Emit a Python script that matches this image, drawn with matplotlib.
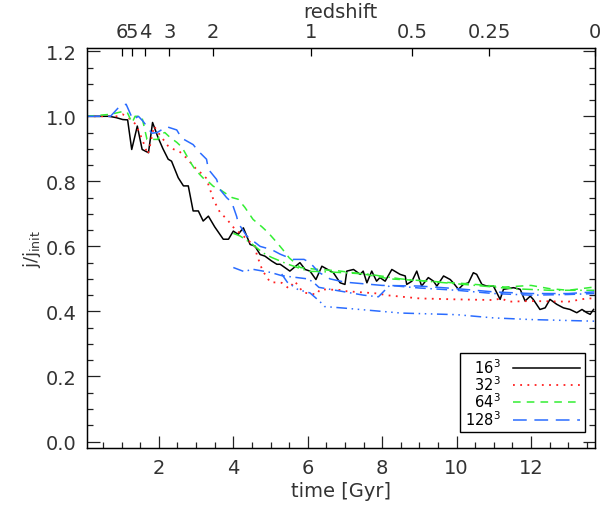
import numpy as np
import matplotlib
matplotlib.use("Agg")
import matplotlib.pyplot as plt
from matplotlib.ticker import MultipleLocator

# 16^3 run (black solid)
t_16 = [0.06, 0.66, 0.85, 1.03, 1.16, 1.27, 1.42, 1.55, 1.72, 1.83, 1.98, 2.11, 2.25, 2.34,
        2.52, 2.66, 2.79, 2.92, 3.06, 3.19, 3.33, 3.50, 3.73, 3.87, 4.00, 4.13, 4.27, 4.36,
        4.45, 4.58, 4.72, 4.85, 5.03, 5.17, 5.26, 5.52, 5.79, 5.93, 6.06, 6.22, 6.38, 6.69,
        6.87, 7.00, 7.05, 7.23, 7.41, 7.49, 7.59, 7.72, 7.85, 7.94, 8.08, 8.26, 8.48, 8.62,
        8.66, 8.80, 8.93, 9.06, 9.24, 9.38, 9.47, 9.65, 9.83, 9.91, 10.05, 10.18, 10.32,
        10.45, 10.54, 10.68, 10.81, 10.99, 11.17, 11.26, 11.53, 11.71, 11.84, 11.98, 12.06,
        12.24, 12.38, 12.51, 12.69, 12.87, 13.05, 13.23, 13.37, 13.50, 13.59, 13.68]
j_16 = [1.0, 1.0, 0.996, 0.99, 0.989, 0.898, 0.970, 0.898, 0.888, 0.981, 0.934, 0.90, 0.868,
        0.862, 0.811, 0.786, 0.786, 0.709, 0.709, 0.678, 0.693, 0.660, 0.622, 0.622, 0.647,
        0.637, 0.657, 0.632, 0.606, 0.601, 0.575, 0.570, 0.555, 0.545, 0.545, 0.524, 0.550,
        0.529, 0.524, 0.498, 0.539, 0.519, 0.488, 0.483, 0.524, 0.529, 0.514, 0.524, 0.488,
        0.524, 0.493, 0.504, 0.493, 0.529, 0.514, 0.509, 0.483, 0.493, 0.524, 0.478, 0.504,
        0.493, 0.478, 0.509, 0.498, 0.488, 0.468, 0.483, 0.488, 0.519, 0.514, 0.483, 0.478,
        0.478, 0.437, 0.468, 0.473, 0.468, 0.432, 0.447, 0.437, 0.406, 0.411, 0.437, 0.422,
        0.411, 0.406, 0.396, 0.406, 0.396, 0.391, 0.406]

# 32^3 run (red dotted)
t_32 = [0.06, 0.9, 1.03, 1.25, 1.38, 1.55, 1.70, 1.74, 1.87, 1.98, 2.27, 2.57, 2.73, 3.01,
        3.09, 3.27, 3.42, 3.46, 3.64, 3.83, 4.05, 4.27, 4.58, 4.63, 4.77, 4.80, 4.99, 5.30,
        5.50, 5.65, 5.88, 6.24, 6.33, 6.87, 7.05, 7.90, 8.10, 9.00, 10.0, 11.0, 11.2, 11.4,
        12.0, 13.0, 13.5, 13.7]
j_32 = [1.0, 1.0, 1.006, 0.99, 0.975, 0.93, 0.883, 0.898, 0.97, 0.95, 0.905, 0.89, 0.873,
        0.837, 0.83, 0.81, 0.76, 0.745, 0.705, 0.683, 0.652, 0.632, 0.60, 0.575, 0.53, 0.523,
        0.49, 0.488, 0.47, 0.493, 0.458, 0.452, 0.468, 0.466, 0.462, 0.455, 0.45, 0.44,
        0.437, 0.435, 0.44, 0.43, 0.432, 0.43, 0.44, 0.44]

# 64^3 run (green dashed)
t_64 = [0.06, 0.69, 1.04, 1.15, 1.28, 1.36, 1.54, 1.68, 1.97, 2.03, 2.16, 2.30, 2.48, 2.62,
        2.84, 2.97, 3.19, 3.32, 3.46, 3.64, 3.83, 3.97, 4.13, 4.31, 4.53, 4.77, 4.93, 5.17,
        5.33, 5.50, 5.80, 6.20, 6.80, 7.50, 8.20, 9.00, 10.3, 11.3, 12.0, 12.5, 13.0, 13.7]
j_64 = [1.0, 1.006, 1.015, 1.012, 0.98, 1.0, 1.0, 0.929, 0.929, 0.945, 0.95, 0.935, 0.92,
        0.905, 0.86, 0.837, 0.81, 0.80, 0.785, 0.775, 0.76, 0.75, 0.745, 0.72, 0.683, 0.66,
        0.643, 0.612, 0.59, 0.565, 0.535, 0.53, 0.525, 0.515, 0.50, 0.495, 0.485, 0.475,
        0.48, 0.47, 0.465, 0.475]

# second 64^3 track (green dash-dot, not in legend)
t_64b = [4.00, 4.18, 4.45, 4.80, 5.03, 5.47, 5.60, 5.85, 6.06, 6.24, 6.80, 7.60, 8.50, 9.50,
         10.5, 11.5, 12.5, 13.7]
j_64b = [0.64, 0.632, 0.612, 0.58, 0.566, 0.545, 0.54, 0.53, 0.523, 0.523, 0.52, 0.515,
         0.50, 0.49, 0.48, 0.47, 0.465, 0.465]

# 128^3 run (blue long dashed)
t_128 = [0.06, 0.70, 0.94, 1.12, 1.30, 1.45, 1.58, 1.81, 1.95, 2.21, 2.48, 2.61, 2.92, 3.06,
         3.28, 3.33, 3.55, 3.64, 3.82, 3.96, 4.09, 4.13, 4.36, 4.72, 5.03, 5.26, 5.60, 5.90,
         6.06, 6.30, 6.60, 7.00, 7.50, 8.00, 9.00, 10.0, 11.0, 12.0, 13.0, 13.7]
j_128 = [1.0, 1.0, 1.03, 1.037, 0.99, 1.0, 0.984, 0.948, 0.95, 0.968, 0.958, 0.933, 0.913,
         0.893, 0.868, 0.837, 0.806, 0.775, 0.75, 0.735, 0.692, 0.672, 0.632, 0.60, 0.59,
         0.576, 0.56, 0.56, 0.55, 0.52, 0.50, 0.49, 0.485, 0.48, 0.478, 0.47, 0.46, 0.455,
         0.455, 0.46]

# extra 128^3 tracks (blue dash-dot, not in legend)
t_128b = [4.00, 4.30, 4.50, 5.00, 5.30, 6.00, 6.15, 6.30, 6.60, 7.00, 7.50, 7.90, 8.20, 9.0,
          10.0, 11.0, 12.0, 13.0, 13.7]
j_128b = [0.535, 0.522, 0.53, 0.52, 0.51, 0.50, 0.49, 0.474, 0.468, 0.46, 0.45, 0.445, 0.48,
          0.472, 0.465, 0.455, 0.45, 0.452, 0.455]
t_128c = [5.30, 5.45, 5.74, 6.06, 6.33, 6.45, 7.00, 8.50, 10.0, 11.0, 12.0, 13.7]
j_128c = [0.515, 0.49, 0.467, 0.457, 0.43, 0.415, 0.41, 0.395, 0.39, 0.38, 0.375, 0.37]

# redshift axis (time of each redshift tick, Gyr)
z_labels = ['6', '5', '4', '3', '2', '1', '0.5', '0.25', '0']
z_times = [1.00, 1.27, 1.63, 2.28, 3.46, 6.08, 8.80, 10.88, 13.72]

plt.rcParams['font.family'] = 'DejaVu Sans'
fig = plt.figure(figsize=(6.05, 5.10), dpi=100)
ax = fig.add_axes([0.1433, 0.1196, 0.8402, 0.7843])

blue = '#2a6cff'
green = '#33ee33'
red = '#ff2020'
ax.plot(t_16, j_16, color='black', lw=1.1, label='16$^3$')
ax.plot(t_32, j_32, color=red, lw=1.3, ls=(0, (1, 3)), label='32$^3$')
ax.plot(t_64, j_64, color=green, lw=1.1, ls=(0, (5, 4)), label='64$^3$')
ax.plot(t_128, j_128, color=blue, lw=1.1, ls=(0, (9, 5)), label='128$^3$')
ax.plot(t_64b, j_64b, color=green, lw=1.1, ls=(0, (7, 3, 1, 3)))
ax.plot(t_128b, j_128b, color=blue, lw=1.1, ls=(0, (7, 3, 1, 3)))
ax.plot(t_128c, j_128c, color=blue, lw=1.1, ls=(0, (7, 3, 1, 3, 1, 3, 1, 3)))

ax.set_xlim(0.06, 13.72)
ax.set_ylim(-0.02, 1.21)
ax.xaxis.set_major_locator(MultipleLocator(2))
ax.xaxis.set_minor_locator(MultipleLocator(0.5))
ax.yaxis.set_major_locator(MultipleLocator(0.2))
ax.yaxis.set_minor_locator(MultipleLocator(0.05))
ax.set_yticks(np.arange(0, 1.21, 0.2))
ax.set_yticklabels(['0.0', '0.2', '0.4', '0.6', '0.8', '1.0', '1.2'])
ax.tick_params(which='both', direction='in', top=False, right=True, labelsize=14,
               colors='#222222', labelcolor='#333333', width=0.9)
ax.tick_params(which='major', length=9, pad=7)
ax.tick_params(which='minor', length=4.5)
for s in ax.spines.values():
    s.set_linewidth(1.0)

ax.set_xlabel('time [Gyr]', fontsize=14, color='#333333', labelpad=3)
ax.set_ylabel('j/j$_{\\rm init}$', fontsize=13, color='#333333', labelpad=2)

top = ax.twiny()
top.set_xlim(ax.get_xlim())
top.set_xticks(z_times)
top.set_xticklabels(z_labels)
top.xaxis.set_minor_locator(plt.NullLocator())
top.tick_params(direction='in', length=6, width=0.9, labelsize=14, labelcolor='#333333',
                pad=5)
top.set_xlabel('redshift', fontsize=14, color='#333333', labelpad=4)

fs = '\u2007'
leg = ax.legend(handles=ax.get_lines()[:4],
                labels=[fs + '16$^3$', fs + '32$^3$', fs + '64$^3$', '128$^3$'],
                loc='lower right', bbox_to_anchor=(0.98, 0.04), borderaxespad=0,
                markerfirst=False, fontsize=10.5, handlelength=4.6, handletextpad=0.9,
                labelspacing=-0.1, fancybox=False, framealpha=1, edgecolor='black',
                borderpad=0.3)
leg.get_frame().set_linewidth(1.0)

fig.savefig('out.png', dpi=100)
